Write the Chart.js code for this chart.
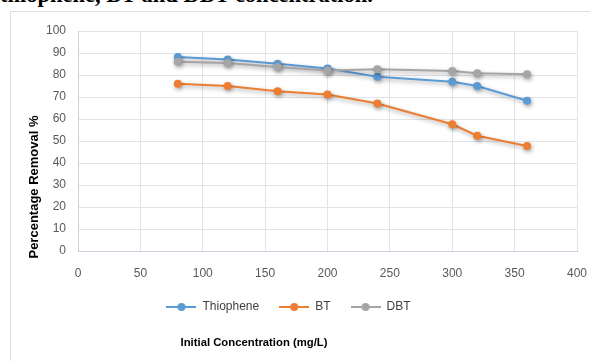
<!DOCTYPE html>
<html lang="en">
<head>
  <meta charset="UTF-8">
  <title>Percentage removal vs initial concentration</title>
  <script src="https://cdn.jsdelivr.net/npm/chart.js"></script>
  <style>
    body { margin: 0; padding: 0; background: #fff; overflow: hidden; }
    #caption {
      position: absolute; left: 0; top: -16px;
      font-family: "Liberation Serif", "Times New Roman", serif;
      font-weight: bold; font-size: 22.5px; line-height: 22px;
      white-space: nowrap; color: #000;
    }
    #frame {
      position: absolute; left: 10px; top: 11px;
      width: 600px; height: 400px;
      border: 1px solid #dcdfe4;
    }
    #chartBox { position: absolute; left: 0; top: 0; width: 590px; height: 361px; }
  </style>
</head>
<body>
  <div id="caption">thiophene, BT and DBT concentration.</div>
  <div id="frame"></div>
  <div id="chartBox">
    <canvas id="removalChart"></canvas>
  </div>

  <script>
    // initial concentration (mg/L)
    const concentrations = [80, 120, 160, 200, 240, 300, 320, 360];

    // percentage removal for each compound
    const thiophene = [88.2, 87.1, 85.1, 83.0, 79.2, 76.9, 75.0, 68.3];
    const bt        = [76.0, 75.0, 72.6, 71.1, 67.0, 57.6, 52.4, 47.7];
    const dbt       = [86.0, 85.5, 83.6, 82.1, 82.6, 81.8, 80.8, 80.3];

    const xTicks = [0, 50, 100, 150, 200, 250, 300, 350, 400];
    const yTicks = [0, 10, 20, 30, 40, 50, 60, 70, 80, 90, 100];

    const series = [
      { label: 'Thiophene', values: thiophene, color: '#5B9BD5', order: 3 },
      { label: 'BT',        values: bt,        color: '#ED7D31', order: 2 },
      { label: 'DBT',       values: dbt,       color: '#A5A5A5', order: 1 }
    ];

    const tickFont = { family: '"Liberation Sans", Arial, sans-serif', size: 12 };

    // little line-with-dot swatch for the legend
    function legendSwatch(color) {
      const c = document.createElement('canvas');
      c.width = 30; c.height = 10;
      const g = c.getContext('2d');
      g.strokeStyle = color; g.lineWidth = 2;
      g.beginPath(); g.moveTo(0, 5); g.lineTo(30, 5); g.stroke();
      g.fillStyle = color;
      g.beginPath(); g.arc(15, 5, 4, 0, Math.PI * 2); g.fill();
      return c;
    }

    // soft drop shadow under lines and markers
    const shadowPlugin = {
      id: 'shadow',
      beforeDatasetsDraw(chart) {
        const ctx = chart.ctx;
        ctx.save();
        ctx.shadowColor = 'rgba(0, 0, 0, 0.35)';
        ctx.shadowBlur = 4;
        ctx.shadowOffsetX = 1;
        ctx.shadowOffsetY = 2;
      },
      afterDatasetsDraw(chart) {
        chart.ctx.restore();
      }
    };

    // axis titles placed where the sheet had them
    const axisTitles = {
      id: 'axisTitles',
      afterDraw(chart) {
        const ctx = chart.ctx;
        ctx.save();
        ctx.fillStyle = '#000';
        ctx.textAlign = 'center';
        ctx.textBaseline = 'middle';
        ctx.font = 'bold 11.3px "Liberation Sans", Arial, sans-serif';
        ctx.fillText('Initial Concentration (mg/L)', 254, 343);
        ctx.font = 'bold 13px "Liberation Sans", Arial, sans-serif';
        ctx.translate(34, 187);
        ctx.rotate(-Math.PI / 2);
        ctx.fillText('Percentage Removal %', 0, 0);
        ctx.restore();
      }
    };

    const ctx = document.getElementById('removalChart').getContext('2d');
    new Chart(ctx, {
      type: 'line',
      data: {
        datasets: series.map(s => ({
          label: s.label,
          data: concentrations.map((x, i) => ({ x: x, y: s.values[i] })),
          borderColor: s.color,
          backgroundColor: s.color,
          borderWidth: 2,
          pointRadius: 4,
          pointHoverRadius: 4,
          pointBorderWidth: 0,
          fill: false,
          tension: 0,
          order: s.order
        }))
      },
      options: {
        responsive: true,
        maintainAspectRatio: false,
        animation: false,
        layout: { padding: { left: 0, top: 31, right: 13, bottom: 38 } },
        scales: {
          x: {
            type: 'linear',
            min: 0, max: 400,
            afterBuildTicks: axis => { axis.ticks = xTicks.map(v => ({ value: v })); },
            afterFit: axis => { axis.height = 30; },
            // invisible tick marks keep the labels clear of the axis
            grid: { color: '#e0e4eb', drawTicks: true, tickLength: 15, tickColor: 'rgba(0,0,0,0)' },
            border: { color: '#c9d1dc', width: 1 },
            ticks: { color: '#595959', font: tickFont, padding: 0, maxRotation: 0 }
          },
          y: {
            min: 0, max: 100,
            afterBuildTicks: axis => { axis.ticks = yTicks.map(v => ({ value: v })); },
            afterFit: axis => { axis.width = 78; },
            grid: { color: '#e0e4eb', drawTicks: false },
            border: { color: '#c9d1dc', width: 1 },
            ticks: { color: '#595959', font: tickFont, padding: 12 }
          }
        },
        plugins: {
          legend: {
            display: true,
            position: 'bottom',
            labels: {
              usePointStyle: true,
              pointStyleWidth: 30,
              padding: 20,
              color: '#404040',
              font: tickFont,
              sort: (a, b) => a.datasetIndex - b.datasetIndex,
              generateLabels: chart => Chart.defaults.plugins.legend.labels.generateLabels(chart)
                .map(item => Object.assign(item, { pointStyle: legendSwatch(series[item.datasetIndex].color) }))
            }
          },
          tooltip: { enabled: false }
        }
      },
      plugins: [shadowPlugin, axisTitles]
    });
  </script>
</body>
</html>
